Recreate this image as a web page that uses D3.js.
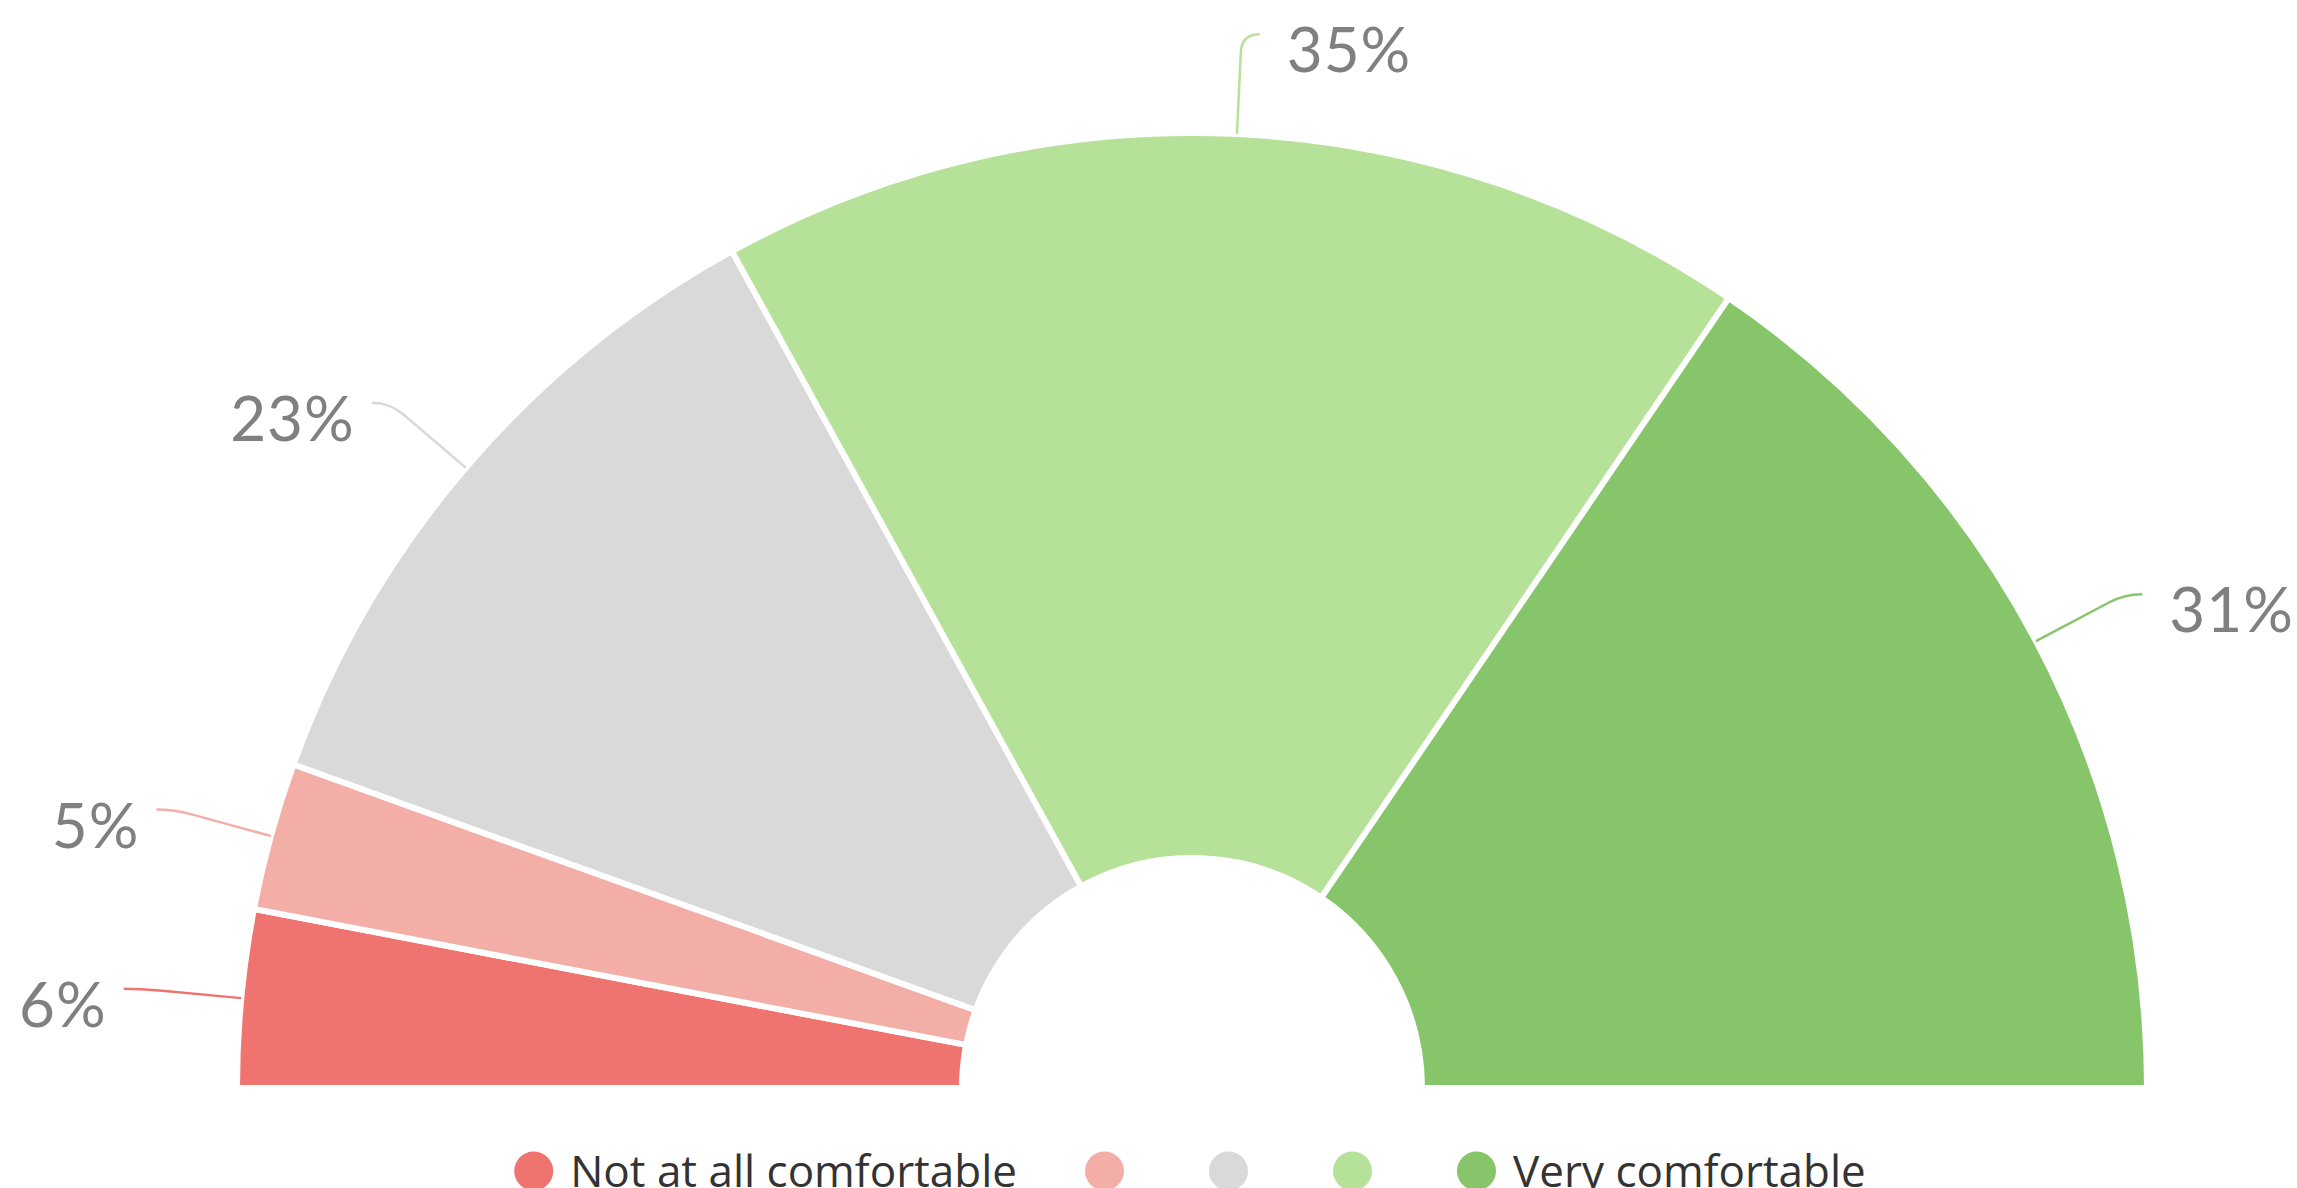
<!DOCTYPE html>
<html>
<head>
<meta charset="utf-8">
<script src="https://cdn.jsdelivr.net/npm/d3@7"></script>
<style>
  html, body { margin: 0; padding: 0; background: #fff; overflow: hidden; }
  svg { display: block; font-family: Lato, "Noto Sans", sans-serif; }
</style>
</head>
<body>
<svg id="chart"></svg>
<script>
// comfort scale, half donut
const categories = ['Not at all comfortable', '2', '3', '4', 'Very comfortable'];
const legendLabels = ['Not at all comfortable', '', '', '', 'Very comfortable'];
const values = [6, 5, 23, 35, 31];
const colors = ['#ef7470', '#f3aea8', '#d9d9d9', '#b6e198', '#87c56a'];

const width = 2297, height = 1188;
const cx = 1192, cy = 1088;
const rOuter = 955, rInner = 230;

const svg = d3.select('#chart')
    .attr('width', width)
    .attr('height', height);

const chart = svg.append('g')
    .attr('transform', `translate(${cx}, ${cy})`);

const pie = d3.pie()
    .sort(null)
    .startAngle(-Math.PI / 2)
    .endAngle(Math.PI / 2)
    .value(d => d);

const arc = d3.arc()
    .innerRadius(rInner)
    .outerRadius(rOuter);

const color = d3.scaleOrdinal()
    .domain(categories)
    .range(colors);

const arcs = pie(values);

chart.selectAll('path.slice')
    .data(arcs)
    .join('path')
    .attr('class', 'slice')
    .attr('d', arc)
    .attr('fill', (d, i) => color(categories[i]))
    .attr('stroke', '#fff')
    .attr('stroke-width', 6)
    .attr('stroke-linejoin', 'round');

// leader lines + labels
const polar = (a, r) => [Math.sin(a) * r, -Math.cos(a) * r];

arcs.forEach((d, i) => {
    const a = (d.startAngle + d.endAngle) / 2;
    const side = Math.sin(a) >= 0 ? 1 : -1;
    const A = polar(a, rOuter);
    const P = polar(a, rOuter + 82);
    const B = polar(a, rOuter + 100);
    const C = [B[0] + side * 18, B[1]];

    chart.append('path')
        .attr('d', `M${A[0]},${A[1]} L${P[0]},${P[1]} Q${B[0]},${B[1]} ${C[0]},${C[1]}`)
        .attr('fill', 'none')
        .attr('stroke', color(categories[i]))
        .attr('stroke-width', 2.5);

    chart.append('text')
        .attr('x', C[0] + (side > 0 ? 27 : -17))
        .attr('y', C[1] + 38)
        .attr('text-anchor', side > 0 ? 'start' : 'end')
        .attr('fill', '#808080')
        .style('font-size', '62px')
        .style('letter-spacing', '1px')
        .text(values[i] + '%');
});

// legend
const legend = svg.append('g');
const symR = 19.5, symPad = 17, itemGap = 68;
let x = 0;
legendLabels.forEach((lab, i) => {
    const item = legend.append('g').attr('transform', `translate(${x}, 0)`);
    item.append('circle')
        .attr('cx', symR)
        .attr('cy', 0)
        .attr('r', symR)
        .attr('fill', colors[i]);
    const t = item.append('text')
        .attr('x', symR * 2 + symPad)
        .attr('y', 16)
        .attr('fill', '#333')
        .style('font-family', '"Open Sans", Lato, sans-serif')
        .style('font-size', '44px')
        .text(lab);
    const tw = lab ? t.node().getComputedTextLength() : 0;
    x += symR * 2 + symPad + tw + itemGap;
});
const totalW = x - itemGap;
legend.attr('transform', `translate(${1190 - totalW / 2}, 1171)`);
</script>
</body>
</html>
